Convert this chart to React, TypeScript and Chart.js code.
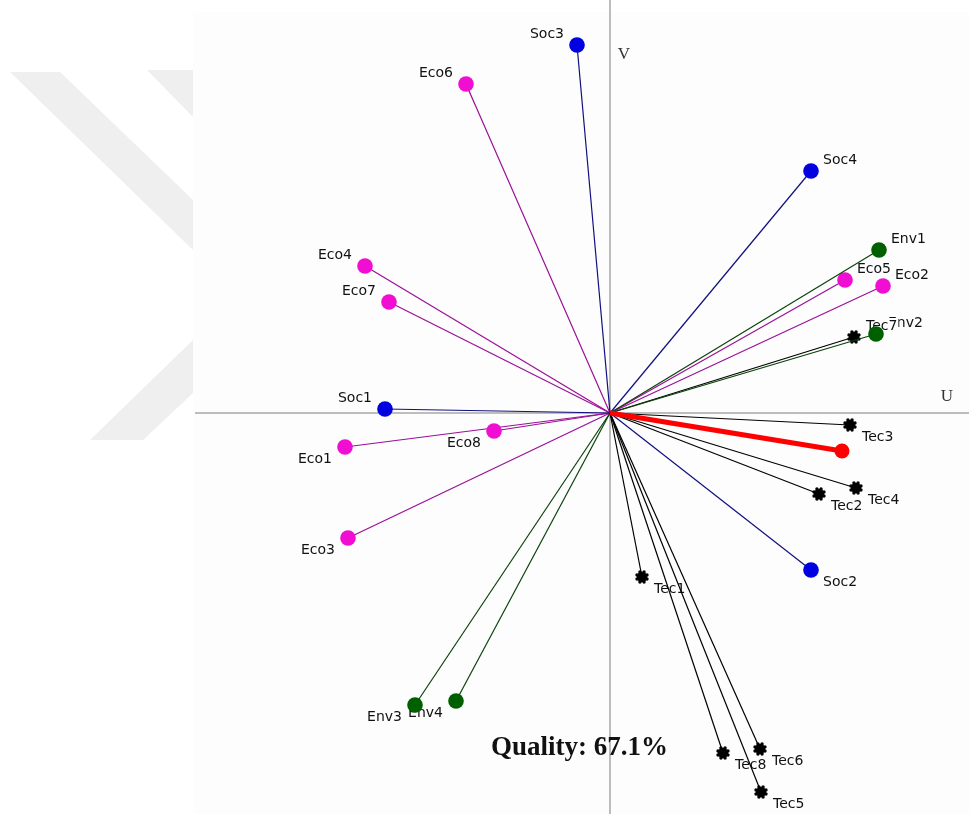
import React, { useEffect, useRef } from 'react';
import { Chart, registerables } from 'chart.js';

Chart.register(...registerables);

// GAIA plane: criteria projections (U, V)
const criteria = ['Soc3', 'Eco6', 'Soc4', 'Env1', 'Eco5', 'Eco2', 'Env2', 'Tec7', 'Tec3', 'Tec4', 'Tec2', 'Soc2', 'Tec1', 'Tec6', 'Tec8', 'Tec5', 'Soc1', 'Eco8', 'Eco1', 'Eco3', 'Env3', 'Env4', 'Eco4', 'Eco7'];
const uValues = [-0.33, -1.44, 2.01, 2.69, 2.35, 2.73, 2.66, 2.44, 2.40, 2.46, 2.09, 2.01, 0.32, 1.50, 1.13, 1.51, -2.25, -1.16, -2.65, -2.62, -1.95, -1.54, -2.45, -2.21];
const vValues = [3.68, 3.29, 2.42, 1.63, 1.33, 1.27, 0.79, 0.76, -0.12, -0.75, -0.81, -1.57, -1.64, -3.36, -3.40, -3.79, 0.04, -0.18, -0.34, -1.25, -2.92, -2.88, 1.47, 1.11];

// Decision stick (pi)
const decisionU = 2.32;
const decisionV = -0.38;

const axisNames = ['U', 'V'];
const qualityText = 'Quality: 67.1%';

const xMin = -4.17;
const xMax = 3.59;
const yMin = -4.01;
const yMax = 4.13;

const groupColors: Record<string, { line: string; marker: string }> = {
  Eco: { line: '#9a1098', marker: '#f00ed2' },
  Soc: { line: '#101080', marker: '#0000e0' },
  Env: { line: '#0a420a', marker: '#006000' },
  Tec: { line: '#000000', marker: '#000000' },
};

function makeGear(): HTMLCanvasElement {
  const c = document.createElement('canvas');
  c.width = 16;
  c.height = 16;
  const g = c.getContext('2d')!;
  g.fillStyle = '#000';
  g.beginPath();
  g.arc(8, 8, 5.2, 0, Math.PI * 2);
  g.fill();
  for (let k = 0; k < 8; k++) {
    const a = (k * Math.PI) / 4 + Math.PI / 8;
    g.beginPath();
    g.arc(8 + Math.cos(a) * 5.4, 8 + Math.sin(a) * 5.4, 1.7, 0, Math.PI * 2);
    g.fill();
  }
  return c;
}

export default function App() {
  const ref = useRef<HTMLCanvasElement | null>(null);

  useEffect(() => {
    if (!ref.current) return;
    const gear = makeGear();

    const datasets: any[] = [];
    datasets.push({
      label: 'Decision',
      data: [{ x: 0, y: 0 }, { x: decisionU, y: decisionV }],
      showLine: true,
      borderColor: '#ff0000',
      borderWidth: 5,
      pointRadius: [0, 7.5],
      pointBackgroundColor: '#ff0000',
      pointBorderColor: '#ff0000',
      pointBorderWidth: 0,
    });
    criteria.forEach((name, i) => {
      const col = groupColors[name.slice(0, 3)];
      const isTec = name.startsWith('Tec');
      datasets.push({
        label: name,
        data: [{ x: 0, y: 0 }, { x: uValues[i], y: vValues[i] }],
        showLine: true,
        borderColor: col.line,
        borderWidth: 1.2,
        pointRadius: [0, isTec ? 6.5 : 7.8],
        pointStyle: isTec ? gear : 'circle',
        pointBackgroundColor: col.marker,
        pointBorderColor: col.marker,
        pointBorderWidth: 0,
      });
    });

    const background = {
      id: 'background',
      beforeDraw(chart: any) {
        const ctx = chart.ctx;
        ctx.save();
        ctx.fillStyle = '#ffffff';
        ctx.fillRect(0, 0, chart.width, chart.height);
        ctx.fillStyle = '#fdfdfd';
        ctx.fillRect(193, 12, chart.width - 193, chart.height - 12);
        // faint watermark chevrons
        ctx.fillStyle = '#efefef';
        const polys = [
          [[10, 72], [60, 72], [193, 200], [193, 250]],
          [[147, 70], [193, 70], [193, 117]],
          [[90, 440], [143, 440], [193, 393], [193, 340]],
        ];
        polys.forEach((p) => {
          ctx.beginPath();
          ctx.moveTo(p[0][0], p[0][1]);
          for (let k = 1; k < p.length; k++) ctx.lineTo(p[k][0], p[k][1]);
          ctx.closePath();
          ctx.fill();
        });
        // axes
        const xs = chart.scales.x;
        const ys = chart.scales.y;
        const ox = xs.getPixelForValue(0);
        const oy = ys.getPixelForValue(0);
        ctx.strokeStyle = '#a8a8a8';
        ctx.lineWidth = 1.5;
        ctx.beginPath();
        ctx.moveTo(chart.chartArea.left + 2, oy);
        ctx.lineTo(chart.chartArea.right, oy);
        ctx.moveTo(ox, 0);
        ctx.lineTo(ox, chart.height);
        ctx.stroke();
        ctx.fillStyle = '#333';
        ctx.font = '17px "Liberation Serif"';
        ctx.textAlign = 'center';
        ctx.textBaseline = 'middle';
        ctx.fillText(axisNames[0], chart.chartArea.right - 22, oy - 16);
        ctx.fillText(axisNames[1], ox + 14, 55);
        ctx.restore();
      },
      beforeDatasetsDraw(chart: any) {
        const ctx = chart.ctx;
        const xs = chart.scales.x;
        const ys = chart.scales.y;
        ctx.save();
        ctx.font = '14px "DejaVu Sans"';
        ctx.textBaseline = 'middle';
        criteria.forEach((name, i) => {
          const px = xs.getPixelForValue(uValues[i]);
          const py = ys.getPixelForValue(vValues[i]);
          const right = uValues[i] >= 0;
          const tx = right ? px + 12 : px - 13;
          const ty = vValues[i] >= 0 ? py - 11 : py + 12;
          const w = ctx.measureText(name).width;
          const left = right ? tx : tx - w;
          ctx.fillStyle = '#fdfdfd';
          ctx.fillRect(left - 1, ty - 8, w + 2, 16);
          ctx.fillStyle = '#111111';
          ctx.textAlign = right ? 'left' : 'right';
          ctx.fillText(name, tx, ty);
        });
        ctx.restore();
      },
      afterDatasetsDraw(chart: any) {
        const ctx = chart.ctx;
        ctx.save();
        ctx.fillStyle = '#111';
        ctx.font = 'bold 27px "Liberation Serif"';
        ctx.textAlign = 'left';
        ctx.textBaseline = 'alphabetic';
        ctx.fillText(qualityText, 491, 755);
        ctx.restore();
      },
    };

    const chart = new Chart(ref.current, {
      type: 'scatter',
      data: { datasets },
      options: {
        responsive: false,
        animation: false,
        devicePixelRatio: 1,
        layout: { autoPadding: false, padding: { left: 193, right: 0, top: 0, bottom: 0 } },
        plugins: { legend: { display: false }, tooltip: { enabled: false } },
        scales: {
          x: { type: 'linear', min: xMin, max: xMax, display: false },
          y: { type: 'linear', min: yMin, max: yMax, display: false },
        },
        elements: { line: { tension: 0 } },
      },
      plugins: [background],
    });
    return () => chart.destroy();
  }, []);

  return (
    <div style={{ position: 'absolute', left: 0, top: 0, width: 969, height: 814 }}>
      <canvas ref={ref} width={969} height={814} style={{ display: 'block' }} />
    </div>
  );
}
